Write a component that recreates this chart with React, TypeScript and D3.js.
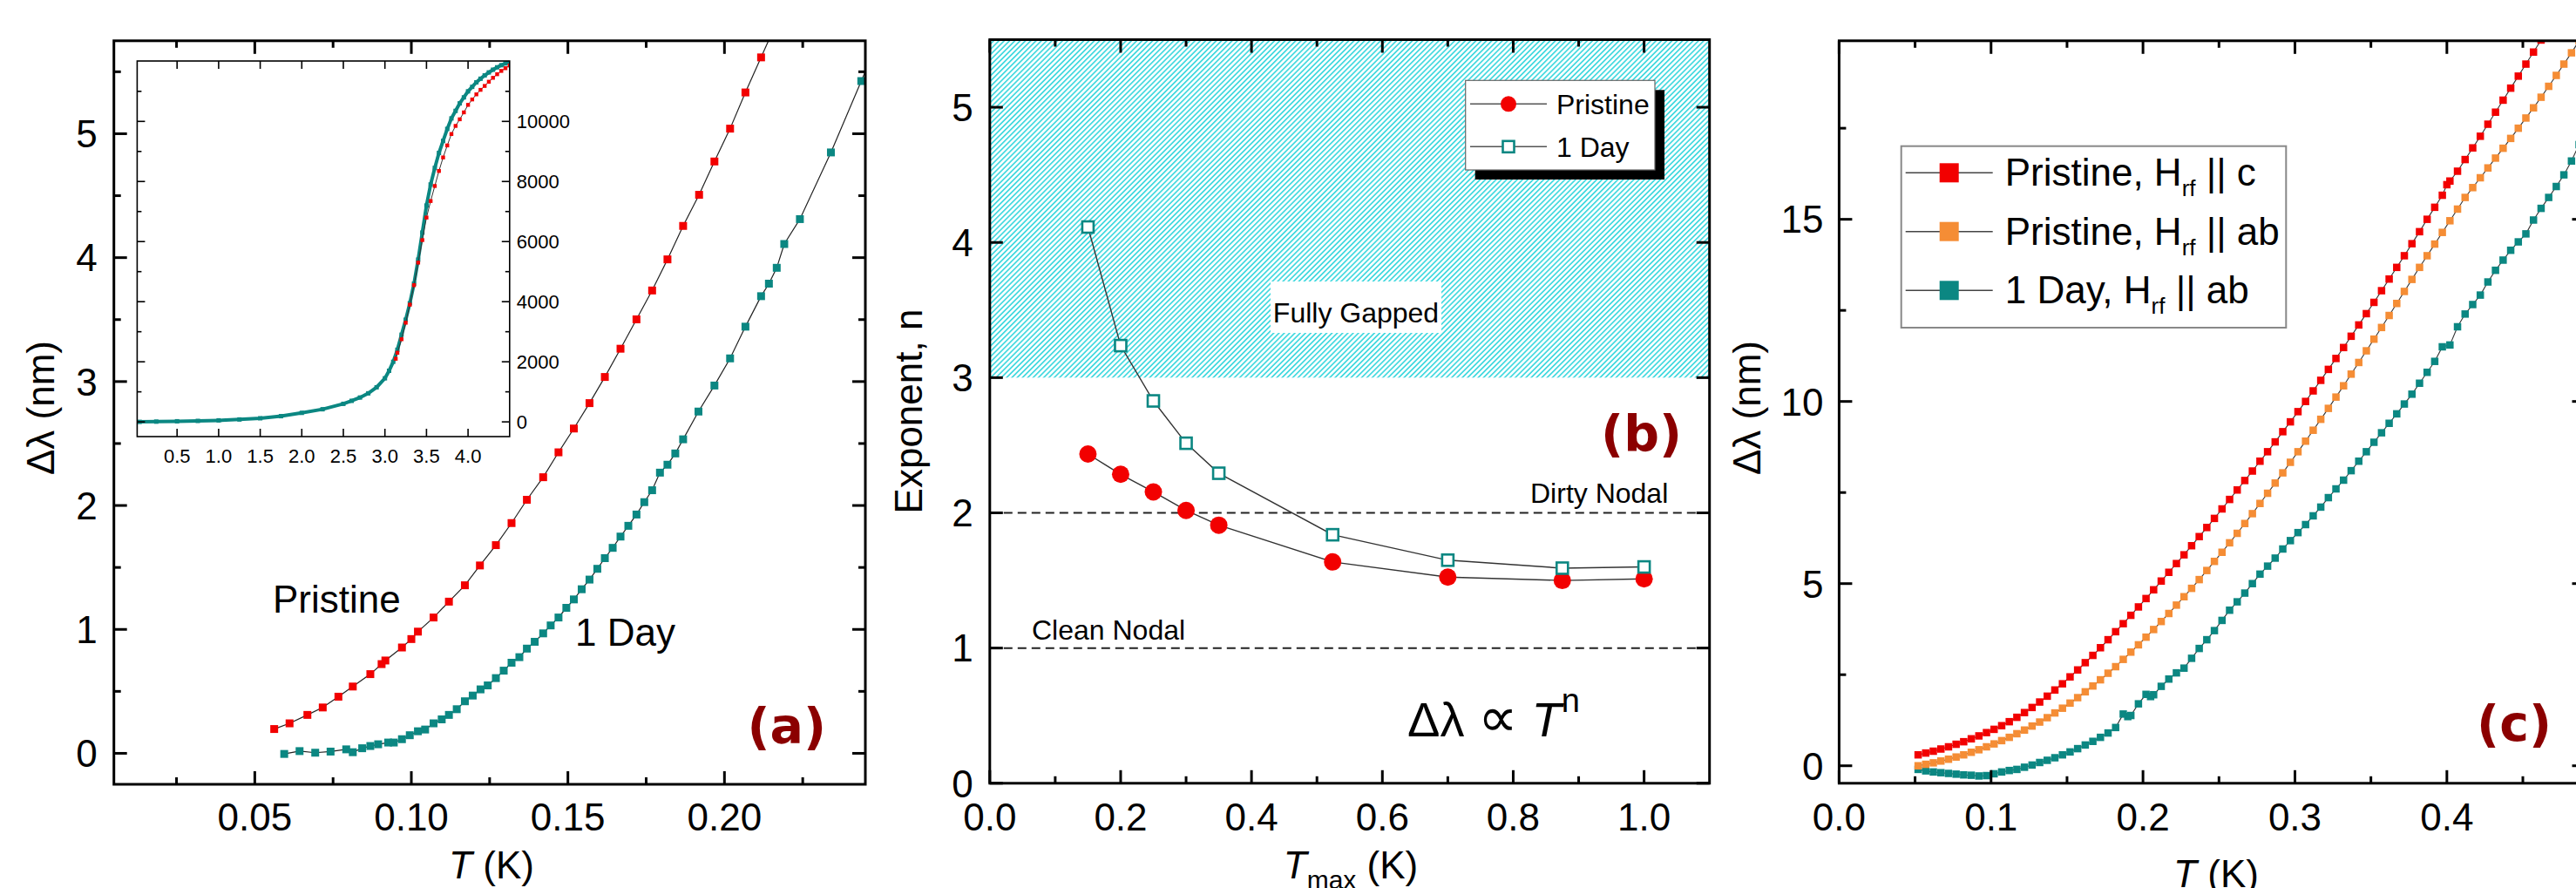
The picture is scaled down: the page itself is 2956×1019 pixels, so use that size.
import React from 'react';
import * as d3 from 'd3';

type Pt = [number, number];

const W = 2956;
const H = 1019;
const FONT = "'Liberation Sans', Arial, Helvetica, sans-serif";
const BOLD = "'DejaVu Sans', sans-serif";
const PANEL_RED = '#8b0000';
const RED = '#f20000';
const TEAL = '#0b8782';
const ORANGE = '#f58d35';
const HATCH = '#42d9df';

// ---------------- Panel (a) : Δλ vs T ----------------
const aPristine: Pt[] = [
  [0.0562, 0.196], [0.0611, 0.242], [0.0668, 0.31], [0.0717, 0.37], [0.0767, 0.457],
  [0.0813, 0.539], [0.0869, 0.639], [0.0905, 0.72], [0.0917, 0.749], [0.097, 0.854],
  [0.1, 0.922], [0.1021, 0.982], [0.1071, 1.096], [0.112, 1.224], [0.1171, 1.356],
  [0.1219, 1.516], [0.127, 1.68], [0.132, 1.858], [0.1369, 2.046], [0.1421, 2.228],
  [0.147, 2.429], [0.1519, 2.621], [0.1569, 2.826], [0.1618, 3.037], [0.1668, 3.265],
  [0.1719, 3.502], [0.1769, 3.735], [0.1818, 3.986], [0.1868, 4.256], [0.1919, 4.507],
  [0.1968, 4.776], [0.2018, 5.041], [0.2067, 5.333], [0.2117, 5.616], [0.2167, 5.9],
];
const aOneDay: Pt[] = [
  [0.0594, -0.005], [0.0643, 0.018], [0.0693, 0.005], [0.0742, 0.014], [0.0792, 0.032],
  [0.0813, 0.009], [0.0843, 0.041], [0.0869, 0.059], [0.0894, 0.073], [0.0926, 0.087],
  [0.0944, 0.087], [0.097, 0.114], [0.0995, 0.146], [0.1021, 0.178], [0.1044, 0.192],
  [0.1071, 0.242], [0.1097, 0.274], [0.112, 0.31], [0.1145, 0.356], [0.1171, 0.42],
  [0.1196, 0.466], [0.1221, 0.516], [0.1244, 0.548], [0.127, 0.607], [0.1295, 0.667],
  [0.132, 0.731], [0.1345, 0.776], [0.1369, 0.845], [0.1394, 0.9], [0.1421, 0.968],
  [0.1445, 1.032], [0.147, 1.096], [0.1495, 1.174], [0.1519, 1.242], [0.1544, 1.324],
  [0.1569, 1.402], [0.1594, 1.489], [0.1618, 1.575], [0.1643, 1.658], [0.1668, 1.749],
  [0.1693, 1.836], [0.1719, 1.927], [0.1744, 2.027], [0.1769, 2.123], [0.1794, 2.265],
  [0.1818, 2.329], [0.1843, 2.42], [0.1868, 2.534], [0.1917, 2.758], [0.1968, 2.968],
  [0.2018, 3.187], [0.2067, 3.443], [0.2117, 3.689], [0.2142, 3.79], [0.2167, 3.918],
  [0.2191, 4.11], [0.2241, 4.311], [0.234, 4.849], [0.2437, 5.425], [0.2480, 5.68],
];
const aXMajor = [0.05, 0.1, 0.15, 0.2];
const aXMinor = [0.025, 0.075, 0.125, 0.175, 0.225];
const aYMajor = [0, 1, 2, 3, 4, 5];
const aYMinor = [0.5, 1.5, 2.5, 3.5, 4.5, 5.5];

// inset of (a)
const insetOneDay: Pt[] = [
  [0.05, 0], [0.25, 8], [0.5, 20], [0.75, 32], [1.0, 50], [1.25, 80], [1.5, 120],
  [1.75, 190], [2.0, 300], [2.25, 420], [2.5, 600], [2.6, 700], [2.7, 810], [2.8, 950],
  [2.9, 1150], [3.0, 1450], [3.05, 1700], [3.1, 2000], [3.15, 2400], [3.2, 2900],
  [3.25, 3400], [3.3, 3950], [3.35, 4600], [3.4, 5400], [3.45, 6300], [3.5, 7200],
  [3.55, 7900], [3.6, 8450], [3.65, 8950], [3.7, 9350], [3.75, 9750], [3.8, 10100],
  [3.85, 10350], [3.9, 10600], [3.95, 10800], [4.0, 11000], [4.05, 11150], [4.1, 11300],
  [4.15, 11420], [4.2, 11530], [4.25, 11630], [4.3, 11720], [4.35, 11800], [4.4, 11870],
  [4.45, 11930], [4.5, 11990],
];
const insetPristine: Pt[] = [
  [3.13, 2100], [3.15, 2300], [3.2, 2750], [3.25, 3300], [3.3, 3900], [3.35, 4550],
  [3.4, 5300], [3.45, 6050], [3.5, 6800], [3.55, 7350], [3.6, 7850], [3.65, 8350],
  [3.7, 8800], [3.75, 9200], [3.8, 9580], [3.85, 9850], [3.9, 10070], [3.95, 10300],
  [4.0, 10550], [4.05, 10730], [4.1, 10900], [4.15, 11050], [4.2, 11180], [4.25, 11320],
  [4.3, 11450], [4.35, 11570], [4.4, 11680], [4.45, 11770], [4.5, 11860],
];
const insetXTicks = [0.5, 1.0, 1.5, 2.0, 2.5, 3.0, 3.5, 4.0];
const insetYMajor = [0, 2000, 4000, 6000, 8000, 10000];
const insetYMinor = [1000, 3000, 5000, 7000, 9000, 11000];

// ---------------- Panel (b) : exponent vs Tmax ----------------
const bTmax = [0.15, 0.2, 0.25, 0.3, 0.35, 0.524, 0.7, 0.875, 1.0];
const bPristine = [2.435, 2.285, 2.155, 2.018, 1.909, 1.637, 1.525, 1.5, 1.512];
const bOneDay = [4.114, 3.237, 2.828, 2.515, 2.293, 1.838, 1.65, 1.591, 1.6];
const bXMajor = [0, 0.2, 0.4, 0.6, 0.8, 1.0];
const bXMinor = [0.1, 0.3, 0.5, 0.7, 0.9];
const bYMajor = [0, 1, 2, 3, 4, 5];
const bGapped = 3;
const bDirty = 2;
const bClean = 1;

// ---------------- Panel (c) : Δλ vs T, three series ----------------
const cPristineC: Pt[] = [
  [0.052, 0.3], [0.057, 0.35], [0.062, 0.4], [0.067, 0.46], [0.072, 0.52], [0.077, 0.59],
  [0.082, 0.66], [0.087, 0.74], [0.092, 0.82], [0.097, 0.91], [0.102, 1.0], [0.107, 1.1],
  [0.112, 1.21], [0.117, 1.33], [0.122, 1.46], [0.127, 1.6], [0.132, 1.75], [0.137, 1.91],
  [0.142, 2.08], [0.147, 2.25], [0.152, 2.44], [0.157, 2.63], [0.162, 2.83], [0.167, 3.03],
  [0.172, 3.24], [0.177, 3.46], [0.182, 3.68], [0.187, 3.9], [0.192, 4.13], [0.197, 4.36],
  [0.202, 4.59], [0.207, 4.83], [0.212, 5.07], [0.217, 5.31], [0.222, 5.55], [0.227, 5.79],
  [0.232, 6.04], [0.237, 6.29], [0.242, 6.54], [0.247, 6.79], [0.252, 7.05], [0.257, 7.31],
  [0.262, 7.57], [0.267, 7.83], [0.272, 8.09], [0.277, 8.36], [0.282, 8.62], [0.287, 8.89],
  [0.292, 9.17], [0.297, 9.44], [0.302, 9.72], [0.307, 10.0], [0.312, 10.29], [0.317, 10.58],
  [0.322, 10.88], [0.327, 11.18], [0.332, 11.48], [0.337, 11.79], [0.342, 12.1], [0.347, 12.41],
  [0.352, 12.72], [0.357, 13.04], [0.362, 13.36], [0.367, 13.68], [0.372, 14.0], [0.377, 14.33],
  [0.382, 14.66], [0.387, 15.0], [0.392, 15.33], [0.397, 15.66], [0.4, 15.95], [0.402, 16.05],
  [0.407, 16.32], [0.412, 16.64], [0.417, 16.96], [0.422, 17.28], [0.427, 17.61], [0.432, 17.94],
  [0.437, 18.27], [0.442, 18.6], [0.447, 18.93], [0.452, 19.26], [0.457, 19.59], [0.462, 19.92],
  [0.467, 20.25],
];
const cPristineAB: Pt[] = [
  [0.052, 0.0], [0.057, 0.04], [0.062, 0.08], [0.067, 0.13], [0.072, 0.18], [0.077, 0.24],
  [0.082, 0.3], [0.087, 0.37], [0.092, 0.44], [0.097, 0.52], [0.102, 0.6], [0.107, 0.69],
  [0.112, 0.78], [0.117, 0.88], [0.122, 0.98], [0.127, 1.09], [0.132, 1.2], [0.137, 1.32],
  [0.142, 1.45], [0.147, 1.58], [0.152, 1.72], [0.157, 1.87], [0.162, 2.03], [0.167, 2.19],
  [0.172, 2.36], [0.177, 2.54], [0.182, 2.72], [0.187, 2.92], [0.192, 3.12], [0.197, 3.32],
  [0.202, 3.53], [0.207, 3.74], [0.212, 3.96], [0.217, 4.18], [0.222, 4.41], [0.227, 4.64],
  [0.232, 4.87], [0.237, 5.11], [0.242, 5.36], [0.247, 5.61], [0.252, 5.86], [0.257, 6.12],
  [0.262, 6.38], [0.267, 6.65], [0.272, 6.92], [0.277, 7.2], [0.282, 7.48], [0.287, 7.76],
  [0.292, 8.04], [0.297, 8.33], [0.302, 8.62], [0.307, 8.91], [0.312, 9.21], [0.317, 9.51],
  [0.322, 9.81], [0.327, 10.12], [0.332, 10.43], [0.337, 10.75], [0.342, 11.07], [0.347, 11.39],
  [0.352, 11.71], [0.357, 12.03], [0.362, 12.36], [0.367, 12.69], [0.372, 13.02], [0.377, 13.35],
  [0.382, 13.68], [0.387, 14.0], [0.392, 14.32], [0.397, 14.64], [0.402, 14.96], [0.407, 15.28],
  [0.412, 15.6], [0.417, 15.87], [0.422, 16.14], [0.427, 16.41], [0.432, 16.68], [0.437, 16.95],
  [0.442, 17.22], [0.447, 17.5], [0.452, 17.78], [0.457, 18.06], [0.462, 18.35], [0.467, 18.65],
  [0.472, 18.95], [0.477, 19.26], [0.482, 19.57], [0.487, 19.9], [0.492, 20.2],
];
const cOneDayAB: Pt[] = [
  [0.052, -0.1], [0.057, -0.14], [0.062, -0.17], [0.067, -0.19], [0.072, -0.21], [0.077, -0.23],
  [0.082, -0.25], [0.087, -0.26], [0.092, -0.28], [0.097, -0.27], [0.102, -0.22], [0.107, -0.17],
  [0.112, -0.13], [0.117, -0.1], [0.122, -0.04], [0.127, 0.02], [0.132, 0.09], [0.137, 0.15],
  [0.142, 0.22], [0.147, 0.3], [0.152, 0.38], [0.157, 0.47], [0.162, 0.57], [0.167, 0.67],
  [0.172, 0.78], [0.177, 0.9], [0.182, 1.05], [0.187, 1.42], [0.19, 1.35], [0.192, 1.38],
  [0.197, 1.7], [0.202, 1.96], [0.205, 1.9], [0.207, 1.95], [0.212, 2.18], [0.217, 2.38],
  [0.222, 2.55], [0.227, 2.68], [0.232, 2.95], [0.237, 3.22], [0.242, 3.46], [0.247, 3.71],
  [0.252, 3.99], [0.257, 4.27], [0.262, 4.5], [0.267, 4.74], [0.272, 5.0], [0.277, 5.26],
  [0.282, 5.48], [0.287, 5.7], [0.292, 5.95], [0.297, 6.18], [0.302, 6.4], [0.307, 6.62],
  [0.312, 6.86], [0.317, 7.1], [0.322, 7.36], [0.327, 7.6], [0.332, 7.84], [0.337, 8.1],
  [0.342, 8.36], [0.347, 8.62], [0.352, 8.88], [0.357, 9.14], [0.362, 9.4], [0.367, 9.66],
  [0.372, 9.93], [0.377, 10.2], [0.382, 10.5], [0.387, 10.8], [0.392, 11.1], [0.397, 11.5],
  [0.402, 11.55], [0.407, 12.05], [0.412, 12.4], [0.417, 12.66], [0.422, 12.92], [0.427, 13.28],
  [0.432, 13.6], [0.437, 13.88], [0.442, 14.15], [0.447, 14.38], [0.452, 14.6], [0.457, 14.98],
  [0.462, 15.3], [0.467, 15.6], [0.472, 15.9], [0.477, 16.22], [0.482, 16.6], [0.487, 17.05],
  [0.492, 17.5],
];
const cXMajor = [0, 0.1, 0.2, 0.3, 0.4];
const cXMinor = [0.05, 0.15, 0.25, 0.35, 0.45];
const cYMajor = [0, 5, 10, 15];
const cYMinor = [2.5, 7.5, 12.5, 17.5];

// ---------------- scales ----------------
const xA = d3.scaleLinear().domain([0.005, 0.245]).range([130.7, 993]);
const yA = d3.scaleLinear().domain([-0.25, 5.75]).range([900, 46.8]);
const xI = d3.scaleLinear().domain([0.02, 4.5]).range([157.4, 584.8]);
const yI = d3.scaleLinear().domain([-490, 12010]).range([501, 70]);
const xB = d3.scaleLinear().domain([0, 1.1]).range([1135.8, 1961.7]);
const yB = d3.scaleLinear().domain([0, 5.5]).range([898.8, 45.5]);
const xC = d3.scaleLinear().domain([0, 0.491]).range([2110.4, 2966.5]);
const yC = d3.scaleLinear().domain([-0.48, 19.9]).range([898.8, 46.8]);

type Lin = d3.ScaleLinear<number, number>;

interface AxesProps {
  x: Lin; y: Lin;
  xMajor: number[]; xMinor: number[]; yMajor: number[]; yMinor: number[];
  xFmt: (v: number) => string; yFmt: (v: number) => string;
  major: number; minor: number; sw: number; fs: number;
  xLabelBase: number; yLabelGap: number; yLabelRight?: boolean;
}

function Axes(p: AxesProps) {
  const [x0, x1] = p.x.range();
  const [y0, y1] = p.y.range();
  const els: React.ReactNode[] = [];
  const tick = (key: string, a: number, b: number, c: number, d: number) =>
    els.push(<line key={key} x1={a} y1={b} x2={c} y2={d} stroke="#000" strokeWidth={p.sw} />);
  p.xMajor.forEach((v, i) => {
    const X = p.x(v);
    tick('xM' + i, X, y0, X, y0 - p.major);
    tick('xMt' + i, X, y1, X, y1 + p.major);
    els.push(
      <text key={'xl' + i} x={X} y={p.xLabelBase} textAnchor="middle" fontSize={p.fs} fontFamily={FONT} fill="#000">
        {p.xFmt(v)}
      </text>
    );
  });
  p.xMinor.forEach((v, i) => {
    const X = p.x(v);
    tick('xm' + i, X, y0, X, y0 - p.minor);
    tick('xmt' + i, X, y1, X, y1 + p.minor);
  });
  p.yMajor.forEach((v, i) => {
    const Y = p.y(v);
    tick('yM' + i, x0, Y, x0 + p.major, Y);
    tick('yMr' + i, x1, Y, x1 - p.major, Y);
    els.push(
      <text key={'yl' + i}
        x={p.yLabelRight ? x1 + p.yLabelGap : x0 - p.yLabelGap}
        y={Y} dy="0.36em"
        textAnchor={p.yLabelRight ? 'start' : 'end'}
        fontSize={p.fs} fontFamily={FONT} fill="#000">
        {p.yFmt(v)}
      </text>
    );
  });
  p.yMinor.forEach((v, i) => {
    const Y = p.y(v);
    tick('ym' + i, x0, Y, x0 + p.minor, Y);
    tick('ymr' + i, x1, Y, x1 - p.minor, Y);
  });
  els.push(
    <rect key="frame" x={x0} y={y1} width={x1 - x0} height={y0 - y1} fill="none" stroke="#000" strokeWidth={p.sw} />
  );
  return <g>{els}</g>;
}

function clipRect(id: string, x: Lin, y: Lin) {
  const [x0, x1] = x.range();
  const [y0, y1] = y.range();
  return (
    <clipPath id={id}>
      <rect x={x0} y={y1} width={x1 - x0} height={y0 - y1} />
    </clipPath>
  );
}

function SquareSeries({ data, x, y, color, size, lineW, lineColor }: {
  data: Pt[]; x: Lin; y: Lin; color: string; size: number; lineW: number; lineColor: string;
}) {
  const line = d3.line<Pt>().x((d) => x(d[0])).y((d) => y(d[1]));
  return (
    <g>
      <path d={line(data) || ''} fill="none" stroke={lineColor} strokeWidth={lineW} />
      {data.map((d, i) => (
        <rect key={i} x={x(d[0]) - size / 2} y={y(d[1]) - size / 2} width={size} height={size} fill={color} />
      ))}
    </g>
  );
}

export default function App() {
  const fmt2 = (v: number) => v.toFixed(2);
  const fmt1 = (v: number) => v.toFixed(1);
  const fmt0 = (v: number) => String(v);
  const bLine = d3.line<number>().x((_, i) => xB(bTmax[i])).y((d) => yB(d));
  const tealInsetLine = d3.line<Pt>().x((d) => xI(d[0])).y((d) => yI(d[1]));

  const titleFs = 44;

  return (
    <svg width={W} height={H} viewBox={`0 0 ${W} ${H}`}
      style={{ position: 'absolute', left: 0, top: 0, background: '#fff' }}>
      <defs>
        {clipRect('clipA', xA, yA)}
        {clipRect('clipI', xI, yI)}
        {clipRect('clipB', xB, yB)}
        {clipRect('clipC', xC, yC)}
        <pattern id="hatch" patternUnits="userSpaceOnUse" width={4.3} height={10} patternTransform="rotate(45)">
          <rect x={0} y={0} width={4.3} height={10} fill="#fff" />
          <rect x={0} y={0} width={1.7} height={10} fill={HATCH} />
        </pattern>
      </defs>
      <rect x={0} y={0} width={W} height={H} fill="#fff" />

      {/* ================= Panel (a) ================= */}
      <g clipPath="url(#clipA)">
        <SquareSeries data={aPristine} x={xA} y={yA} color={RED} size={9} lineW={1.2} lineColor="#222" />
        <SquareSeries data={aOneDay} x={xA} y={yA} color={TEAL} size={9} lineW={1.2} lineColor="#222" />
      </g>
      <Axes x={xA} y={yA} xMajor={aXMajor} xMinor={aXMinor} yMajor={aYMajor} yMinor={aYMinor}
        xFmt={fmt2} yFmt={fmt0} major={15} minor={8} sw={3} fs={44} xLabelBase={953} yLabelGap={19} />
      <text x={313} y={703} fontSize={44} fontFamily={FONT} fill="#000">Pristine</text>
      <text x={660} y={741} fontSize={44} fontFamily={FONT} fill="#000">1 Day</text>
      <text x={948} y={853} textAnchor="end" fontSize={57} fontWeight="bold" fontFamily={BOLD} fill={PANEL_RED}>(a)</text>
      <text transform={`translate(62,468) rotate(-90)`} textAnchor="middle" fontSize={titleFs} fontFamily={FONT} fill="#000">
        Δλ (nm)
      </text>
      <text x={564} y={1008} textAnchor="middle" fontSize={titleFs} fontFamily={FONT} fill="#000">
        <tspan fontStyle="italic">T</tspan> (K)
      </text>

      {/* inset */}
      <rect x={157.4} y={70} width={584.8 - 157.4} height={431} fill="#fff" />
      <g clipPath="url(#clipI)">
        <path d={tealInsetLine(insetOneDay) || ''} fill="none" stroke={TEAL} strokeWidth={4} />
        {insetOneDay.map((d, i) => (
          <rect key={'it' + i} x={xI(d[0]) - 2.5} y={yI(d[1]) - 2.5} width={5} height={5} fill={TEAL} />
        ))}
        <path d={tealInsetLine(insetPristine) || ''} fill="none" stroke="#333" strokeWidth={1} />
        {insetPristine.map((d, i) => (
          <rect key={'ip' + i} x={xI(d[0]) - 2.2} y={yI(d[1]) - 2.2} width={4.4} height={4.4} fill={RED} />
        ))}
      </g>
      <Axes x={xI} y={yI} xMajor={insetXTicks} xMinor={[]} yMajor={insetYMajor} yMinor={insetYMinor}
        xFmt={fmt1} yFmt={fmt0} major={9} minor={5} sw={1.6} fs={22} xLabelBase={531} yLabelGap={8} yLabelRight />

      {/* ================= Panel (b) ================= */}
      <rect x={xB(0)} y={yB(5.5)} width={xB(1.1) - xB(0)} height={yB(bGapped) - yB(5.5)} fill="url(#hatch)" />
      <rect x={1458} y={323} width={196} height={59} fill="#fff" />
      <text x={1556} y={370} textAnchor="middle" fontSize={32} fontFamily={FONT} fill="#000">Fully Gapped</text>
      <line x1={xB(0)} x2={xB(1.1)} y1={yB(bDirty)} y2={yB(bDirty)} stroke="#222" strokeWidth={2} strokeDasharray="10 6" />
      <line x1={xB(0)} x2={xB(1.1)} y1={yB(bClean)} y2={yB(bClean)} stroke="#222" strokeWidth={2} strokeDasharray="10 6" />
      <text x={1756} y={577} fontSize={32} fontFamily={FONT} fill="#000">Dirty Nodal</text>
      <text x={1184} y={734} fontSize={32} fontFamily={FONT} fill="#000">Clean Nodal</text>
      <g clipPath="url(#clipB)">
        <path d={bLine(bOneDay) || ''} fill="none" stroke="#333" strokeWidth={1.4} />
        <path d={bLine(bPristine) || ''} fill="none" stroke="#333" strokeWidth={1.4} />
        {bPristine.map((v, i) => (
          <circle key={'bp' + i} cx={xB(bTmax[i])} cy={yB(v)} r={10} fill={RED} />
        ))}
        {bOneDay.map((v, i) => (
          <rect key={'bo' + i} x={xB(bTmax[i]) - 6.5} y={yB(v) - 6.5} width={13} height={13}
            fill="#fff" stroke={TEAL} strokeWidth={2.6} />
        ))}
      </g>
      <Axes x={xB} y={yB} xMajor={bXMajor} xMinor={bXMinor} yMajor={bYMajor} yMinor={[]}
        xFmt={fmt1} yFmt={fmt0} major={15} minor={8} sw={3} fs={44} xLabelBase={953} yLabelGap={19} />
      {/* legend (b) */}
      <rect x={1692.7} y={103.3} width={217.3} height={102.7} fill="#000" />
      <rect x={1681.7} y={92.3} width={217.3} height={102.7} fill="#fff" stroke="#666" strokeWidth={1.2} />
      <line x1={1687} x2={1775} y1={119.3} y2={119.3} stroke="#555" strokeWidth={1.6} />
      <circle cx={1731} cy={119.3} r={9} fill={RED} />
      <text x={1786} y={119.3} dy="0.36em" fontSize={32} fontFamily={FONT} fill="#000">Pristine</text>
      <line x1={1687} x2={1775} y1={168.3} y2={168.3} stroke="#555" strokeWidth={1.6} />
      <rect x={1731 - 6.5} y={168.3 - 6.5} width={13} height={13} fill="#fff" stroke={TEAL} strokeWidth={2.6} />
      <text x={1786} y={168.3} dy="0.36em" fontSize={32} fontFamily={FONT} fill="#000">1 Day</text>
      <text x={1930} y={517} textAnchor="end" fontSize={57} fontWeight="bold" fontFamily={BOLD} fill={PANEL_RED}>(b)</text>
      <text x={1615} y={845} fontSize={56} fontFamily={FONT} fill="#000">
        Δλ <tspan fontSize={64}>∝</tspan> <tspan fontStyle="italic">T</tspan>
        <tspan fontSize={38} dy={-28}>n</tspan>
      </text>
      <text transform={`translate(1058,472) rotate(-90)`} textAnchor="middle" fontSize={titleFs} fontFamily={FONT} fill="#000">
        Exponent, n
      </text>
      <text x={1550} y={1008} textAnchor="middle" fontSize={titleFs} fontFamily={FONT} fill="#000">
        <tspan fontStyle="italic">T</tspan>
        <tspan fontSize={30} dy={12}>max</tspan>
        <tspan dy={-12}> (K)</tspan>
      </text>

      {/* ================= Panel (c) ================= */}
      <g clipPath="url(#clipC)">
        <SquareSeries data={cOneDayAB} x={xC} y={yC} color={TEAL} size={8.5} lineW={1.1} lineColor="#333" />
        <SquareSeries data={cPristineAB} x={xC} y={yC} color={ORANGE} size={8.5} lineW={1.1} lineColor="#333" />
        <SquareSeries data={cPristineC} x={xC} y={yC} color={RED} size={8.5} lineW={1.1} lineColor="#333" />
      </g>
      <Axes x={xC} y={yC} xMajor={cXMajor} xMinor={cXMinor} yMajor={cYMajor} yMinor={cYMinor}
        xFmt={fmt1} yFmt={fmt0} major={15} minor={8} sw={3} fs={44} xLabelBase={953} yLabelGap={18} />
      {/* legend (c) */}
      <rect x={2181.7} y={167.7} width={441.6} height={208.3} fill="#fff" stroke="#888" strokeWidth={2} />
      {[
        { label: 'Pristine, H', tail: ' || c', color: RED, y: 198.3 },
        { label: 'Pristine, H', tail: ' || ab', color: ORANGE, y: 265.7 },
        { label: '1 Day, H', tail: ' || ab', color: TEAL, y: 333.3 },
      ].map((r, i) => (
        <g key={'lc' + i}>
          <line x1={2186.7} x2={2286.7} y1={r.y} y2={r.y} stroke="#444" strokeWidth={1.5} />
          <rect x={2236.7 - 11} y={r.y - 11} width={22} height={22} fill={r.color} />
          <text x={2300.7} y={r.y + 15} fontSize={44} fontFamily={FONT} fill="#000">
            {r.label}
            <tspan fontSize={26} dy={12}>rf</tspan>
            <tspan dy={-12}>{r.tail}</tspan>
          </text>
        </g>
      ))}
      <text x={2928} y={850} textAnchor="end" fontSize={57} fontWeight="bold" fontFamily={BOLD} fill={PANEL_RED}>(c)</text>
      <text transform={`translate(2020,468) rotate(-90)`} textAnchor="middle" fontSize={titleFs} fontFamily={FONT} fill="#000">
        Δλ (nm)
      </text>
      <text x={2543} y={1018} textAnchor="middle" fontSize={titleFs} fontFamily={FONT} fill="#000">
        <tspan fontStyle="italic">T</tspan> (K)
      </text>
    </svg>
  );
}
